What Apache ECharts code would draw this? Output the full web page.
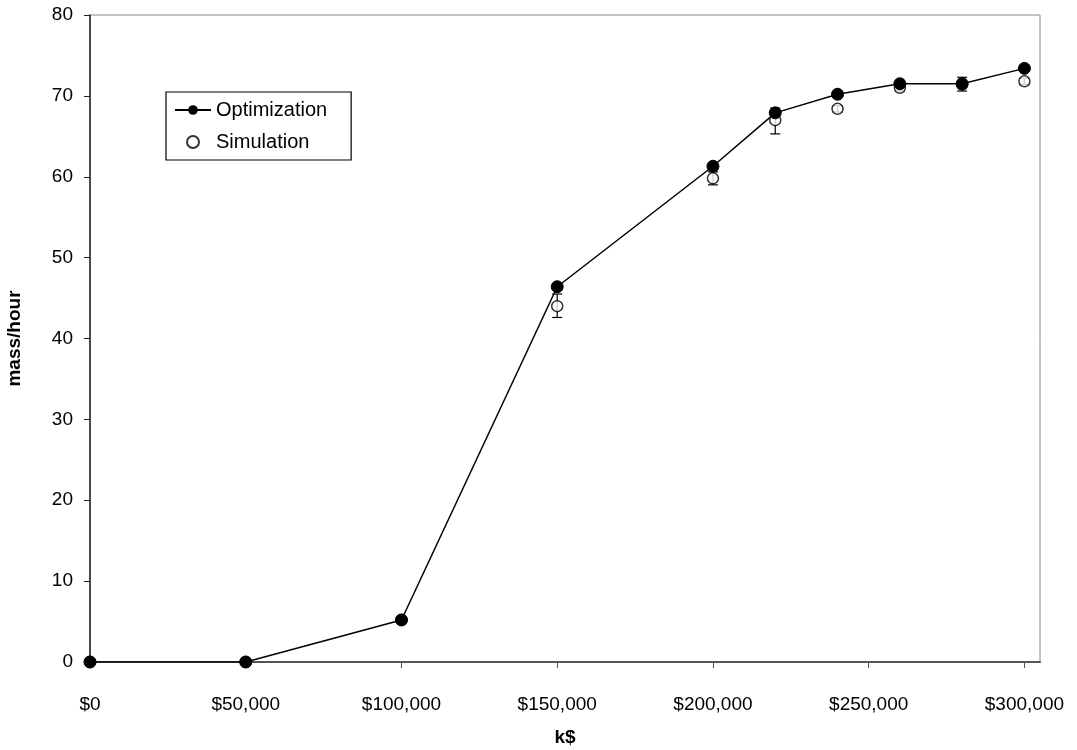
<!DOCTYPE html>
<html>
<head>
<meta charset="utf-8">
<script src="https://cdn.jsdelivr.net/npm/echarts@6/dist/echarts.min.js"></script>
<style>
  html, body { margin: 0; padding: 0; background: #fff; }
  #chart { width: 1077px; height: 750px; }
</style>
</head>
<body>
<div id="chart"></div>
<script>
// Budget levels (k$) and throughput results
const budgets = [0, 50000, 100000, 150000, 200000, 220000, 240000, 260000, 280000, 300000];
const optimization = [0, 0, 5.2, 46.4, 61.3, 67.9, 70.2, 71.5, 71.5, 73.4];
const simulation = [0, 0, 5.2, 44.0, 59.8, 67.0, 68.4, 71.0, 71.4, 71.8];
const simLow = [0, 0, 5.2, 42.6, 59.0, 65.3, 68.0, 70.6, 70.6, 71.4];
const simHigh = [0, 0, 5.2, 45.5, 60.6, 68.5, 68.8, 71.4, 72.3, 72.2];
const xTicks = [0, 50000, 100000, 150000, 200000, 250000, 300000];

const FONT = 'Liberation Sans, Arial, sans-serif';

const chart = echarts.init(document.getElementById('chart'));

const errData = budgets.map((b, i) => [b, simLow[i], simHigh[i]]);

function fmtMoney(v) {
  return '$' + v.toLocaleString('en-US');
}

chart.setOption({
  animation: false,
  backgroundColor: '#fff',
  grid: {
    left: 90, right: 37, top: 15, bottom: 88,
    outerBoundsMode: 'none', containLabel: false,
    show: true, borderColor: '#888', borderWidth: 1
  },
  xAxis: {
    type: 'value',
    min: 0,
    max: 305000,
    name: 'k$',
    nameLocation: 'middle',
    nameGap: 66,
    nameTextStyle: { fontFamily: FONT, fontSize: 19, fontWeight: 'bold', color: '#000' },
    axisLine: { show: true, lineStyle: { color: '#555', width: 2 } },
    axisTick: { show: true, length: 6, lineStyle: { color: '#555' }, customValues: xTicks },
    axisLabel: {
      fontFamily: FONT, fontSize: 19, color: '#000', margin: 33,
      customValues: xTicks,
      formatter: fmtMoney
    },
    splitLine: { show: false }
  },
  yAxis: {
    type: 'value',
    min: 0,
    max: 80,
    interval: 10,
    name: 'mass/hour',
    nameLocation: 'middle',
    nameGap: 66,
    nameTextStyle: { fontFamily: FONT, fontSize: 19, fontWeight: 'bold', color: '#000' },
    axisLine: { show: true, lineStyle: { color: '#222', width: 1.5 } },
    axisTick: { show: true, length: 6, lineStyle: { color: '#222' } },
    axisLabel: { fontFamily: FONT, fontSize: 19, color: '#000', margin: 17 },
    splitLine: { show: false }
  },
  legend: {
    left: 166,
    top: 92,
    orient: 'vertical',
    itemGap: 12,
    itemWidth: 36,
    itemHeight: 12,
    padding: [8, 24, 8, 8],
    borderColor: '#000',
    borderWidth: 1.2,
    backgroundColor: '#fff',
    textStyle: { fontFamily: FONT, fontSize: 20, color: '#000' },
    data: [
      { name: 'Optimization' },
      { name: 'Simulation' }
    ]
  },
  series: [
    {
      name: 'SimErr',
      type: 'custom',
      z: 2,
      data: errData,
      renderItem: function (params, api) {
        const x = api.value(0);
        const lo = api.coord([x, api.value(1)]);
        const hi = api.coord([x, api.value(2)]);
        const w = 5;
        const style = { stroke: '#000', lineWidth: 1.2 };
        return {
          type: 'group',
          children: [
            { type: 'line', shape: { x1: lo[0], y1: lo[1], x2: hi[0], y2: hi[1] }, style: style },
            { type: 'line', shape: { x1: lo[0] - w, y1: lo[1], x2: lo[0] + w, y2: lo[1] }, style: style },
            { type: 'line', shape: { x1: hi[0] - w, y1: hi[1], x2: hi[0] + w, y2: hi[1] }, style: style }
          ]
        };
      }
    },
    {
      name: 'Simulation',
      type: 'scatter',
      z: 3,
      symbol: 'circle',
      symbolSize: 11,
      itemStyle: { color: '#fff', borderColor: '#000', borderWidth: 1.5 },
      data: budgets.map((b, i) => [b, simulation[i]])
    },
    {
      name: 'Optimization',
      type: 'line',
      z: 4,
      symbol: 'circle',
      symbolSize: 12,
      showSymbol: true,
      lineStyle: { color: '#000', width: 1.5 },
      itemStyle: { color: '#000', borderColor: '#000' },
      data: budgets.map((b, i) => [b, optimization[i]])
    }
  ]
});
</script>
</body>
</html>
